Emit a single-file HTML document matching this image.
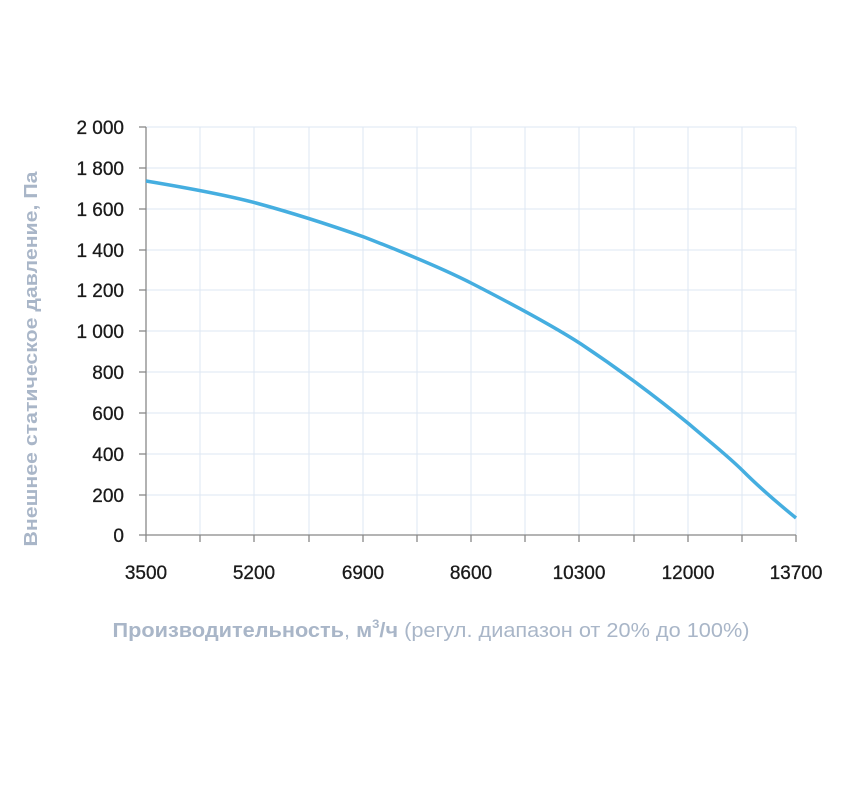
<!DOCTYPE html>
<html><head><meta charset="utf-8"><style>
body{margin:0;background:#fff;}
svg{display:block;font-family:"Liberation Sans",sans-serif;}
</style></head><body>
<svg width="850" height="800" viewBox="0 0 850 800">
<g stroke="#dde7f3" stroke-width="1">
<line x1="146" y1="127" x2="796" y2="127"/><line x1="146" y1="168" x2="796" y2="168"/><line x1="146" y1="209" x2="796" y2="209"/><line x1="146" y1="250" x2="796" y2="250"/><line x1="146" y1="290" x2="796" y2="290"/><line x1="146" y1="331" x2="796" y2="331"/><line x1="146" y1="372" x2="796" y2="372"/><line x1="146" y1="413" x2="796" y2="413"/><line x1="146" y1="454" x2="796" y2="454"/><line x1="146" y1="495" x2="796" y2="495"/>
<line x1="200" y1="127" x2="200" y2="535"/><line x1="254" y1="127" x2="254" y2="535"/><line x1="309" y1="127" x2="309" y2="535"/><line x1="363" y1="127" x2="363" y2="535"/><line x1="417" y1="127" x2="417" y2="535"/><line x1="471" y1="127" x2="471" y2="535"/><line x1="525" y1="127" x2="525" y2="535"/><line x1="579" y1="127" x2="579" y2="535"/><line x1="634" y1="127" x2="634" y2="535"/><line x1="688" y1="127" x2="688" y2="535"/><line x1="742" y1="127" x2="742" y2="535"/><line x1="796" y1="127" x2="796" y2="535"/>
</g>
<g stroke="#888" stroke-width="1.3">
<line x1="146" y1="127" x2="146" y2="535"/><line x1="146" y1="535" x2="796" y2="535"/>
<line x1="139" y1="127" x2="146" y2="127"/><line x1="139" y1="168" x2="146" y2="168"/><line x1="139" y1="209" x2="146" y2="209"/><line x1="139" y1="250" x2="146" y2="250"/><line x1="139" y1="290" x2="146" y2="290"/><line x1="139" y1="331" x2="146" y2="331"/><line x1="139" y1="372" x2="146" y2="372"/><line x1="139" y1="413" x2="146" y2="413"/><line x1="139" y1="454" x2="146" y2="454"/><line x1="139" y1="495" x2="146" y2="495"/><line x1="139" y1="535" x2="146" y2="535"/>
<line x1="146" y1="535" x2="146" y2="542"/><line x1="200" y1="535" x2="200" y2="542"/><line x1="254" y1="535" x2="254" y2="542"/><line x1="309" y1="535" x2="309" y2="542"/><line x1="363" y1="535" x2="363" y2="542"/><line x1="417" y1="535" x2="417" y2="542"/><line x1="471" y1="535" x2="471" y2="542"/><line x1="525" y1="535" x2="525" y2="542"/><line x1="579" y1="535" x2="579" y2="542"/><line x1="634" y1="535" x2="634" y2="542"/><line x1="688" y1="535" x2="688" y2="542"/><line x1="742" y1="535" x2="742" y2="542"/><line x1="796" y1="535" x2="796" y2="542"/>
</g>
<path d="M146,181 C200,190 230,196 256,203 C300,215 330,225 364,237 C400,251 440,267 473,284 C510,303 550,324 581,344 C620,370 655,396 689,424 C710,442 728,456 743,471 C762,490 780,505 796,518" fill="none" stroke="#45aee0" stroke-width="3.5"/>
<g font-size="19" fill="#1a1a1a" text-anchor="end" stroke="#1a1a1a" stroke-width="0.3">
<text x="124" y="134">2 000</text><text x="124" y="175">1 800</text><text x="124" y="216">1 600</text><text x="124" y="257">1 400</text><text x="124" y="297">1 200</text><text x="124" y="338">1 000</text><text x="124" y="379">800</text><text x="124" y="420">600</text><text x="124" y="461">400</text><text x="124" y="502">200</text><text x="124" y="542">0</text>
</g>
<g font-size="19" fill="#1a1a1a" text-anchor="middle" stroke="#1a1a1a" stroke-width="0.3">
<text x="146" y="579">3500</text><text x="254" y="579">5200</text><text x="363" y="579">6900</text><text x="471" y="579">8600</text><text x="579" y="579">10300</text><text x="688" y="579">12000</text><text x="796" y="579">13700</text>
</g>
<text transform="translate(37,359) rotate(-90)" text-anchor="middle" font-size="18" font-weight="bold" fill="#a9b6c8" textLength="375" lengthAdjust="spacingAndGlyphs">Внешнее статическое давление, Па</text>
<text x="431" y="637" text-anchor="middle" font-size="20" fill="#a9b6c8" textLength="637" lengthAdjust="spacingAndGlyphs"><tspan font-weight="bold">Производительность</tspan>, <tspan font-weight="bold">м</tspan><tspan font-size="12" dy="-9" font-weight="bold">3</tspan><tspan dy="9" font-weight="bold">/ч</tspan> (регул. диапазон от 20% до 100%)</text>
</svg>
</body></html>
